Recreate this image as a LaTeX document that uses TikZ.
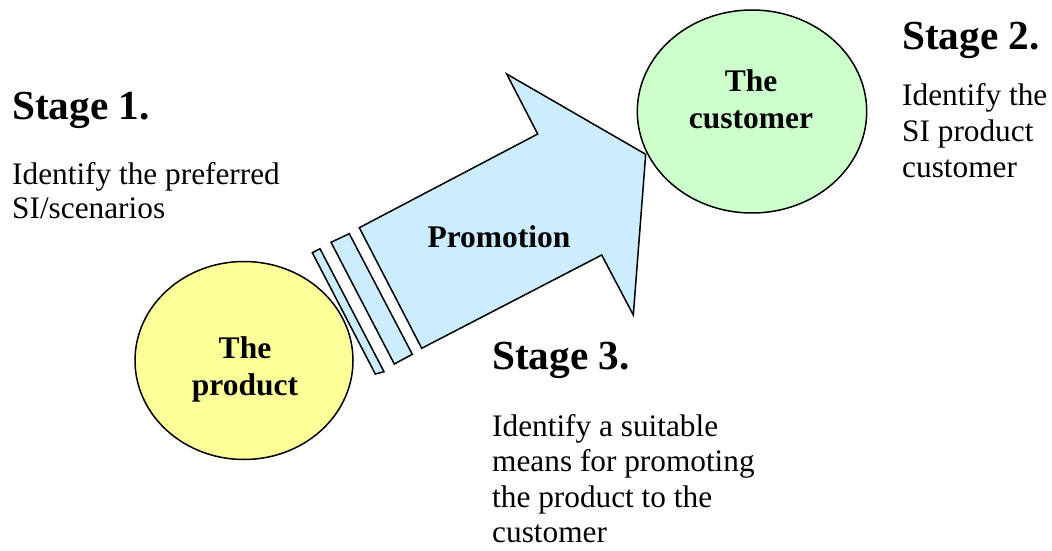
\documentclass[tikz,border=0pt]{standalone}
\usepackage{fontspec}
\setmainfont{Liberation Serif}
\usetikzlibrary{shapes.geometric}
\definecolor{prodyellow}{HTML}{FFFF99}
\definecolor{custgreen}{HTML}{CCFFCC}
\definecolor{promoblue}{HTML}{CCECFF}
\begin{document}
\begin{tikzpicture}[x=1pt,y=-1pt,
  outl/.style={draw=black,line width=1.5pt,line join=miter},
  blob/.style={outl,ellipse,inner sep=0pt},
  stagehead/.style={anchor=base west,inner sep=0pt,font=\fontsize{41.3}{48}\selectfont\bfseries},
  bodyline/.style={anchor=base west,inner sep=0pt,font=\fontsize{31.3}{35}\selectfont},
  blobline/.style={anchor=base,inner sep=0pt,font=\fontsize{31.5}{37}\selectfont\bfseries}]
\useasboundingbox (0,0) rectangle (1052,551);

% ellipses
\node[blob,fill=prodyellow,minimum width=218pt,minimum height=198pt] (product) at (244,360.5) {};
\node[blob,fill=custgreen,minimum width=229.4pt,minimum height=203pt] (customer) at (752,111.5) {};

% arrow body and head
\coordinate (a1) at (359.3,227.7);
\coordinate (a2) at (537.7,134);
\coordinate (a3) at (506.7,74);
\coordinate (tip) at (645.7,154.3);
\coordinate (a5) at (633.3,315);
\coordinate (a6) at (601.7,255);
\coordinate (a7) at (421.7,348.3);
\draw[outl,fill=promoblue] (a1) -- (a2) -- (a3) -- (tip) -- (a5) -- (a6) -- (a7) -- cycle;

% stripes
\draw[outl,fill=promoblue] (331,242.3) -- (349.3,233.7) -- (412.3,354.3) -- (394.3,364) -- cycle;
\draw[outl,fill=promoblue] (312.3,252.7) -- (320,248.7) -- (384,371.7) -- (375.3,374) -- cycle;

% labels inside shapes
\node[blobline] (promo) at (499,247.7) {Promotion};
\node[blobline] (cust1) at (751,91.7) {The};
\node[blobline] (cust2) at (751,128.3) {customer};
\node[blobline] (prod1) at (245,358.3) {The};
\node[blobline] (prod2) at (245,395) {product};

% stage 1
\node[stagehead] (s1) at (12,119) {Stage 1.};
\node[bodyline] (s1a) at (12,184) {Identify the preferred};
\node[bodyline] (s1b) at (12,218.8) {SI/scenarios};

% stage 2
\node[stagehead] (s2) at (902,49.3) {Stage 2.};
\node[bodyline] (s2a) at (902,106) {Identify the};
\node[bodyline] (s2b) at (902,141.5) {SI product};
\node[bodyline] (s2c) at (902,177) {customer};

% stage 3
\node[stagehead] (s3) at (492,369.3) {Stage 3.};
\node[bodyline] (s3a) at (492,436) {Identify a suitable};
\node[bodyline] (s3b) at (492,471.5) {means for promoting};
\node[bodyline] (s3c) at (492,507) {the product to the};
\node[bodyline] (s3d) at (492,542.5) {customer};
\end{tikzpicture}
\end{document}
